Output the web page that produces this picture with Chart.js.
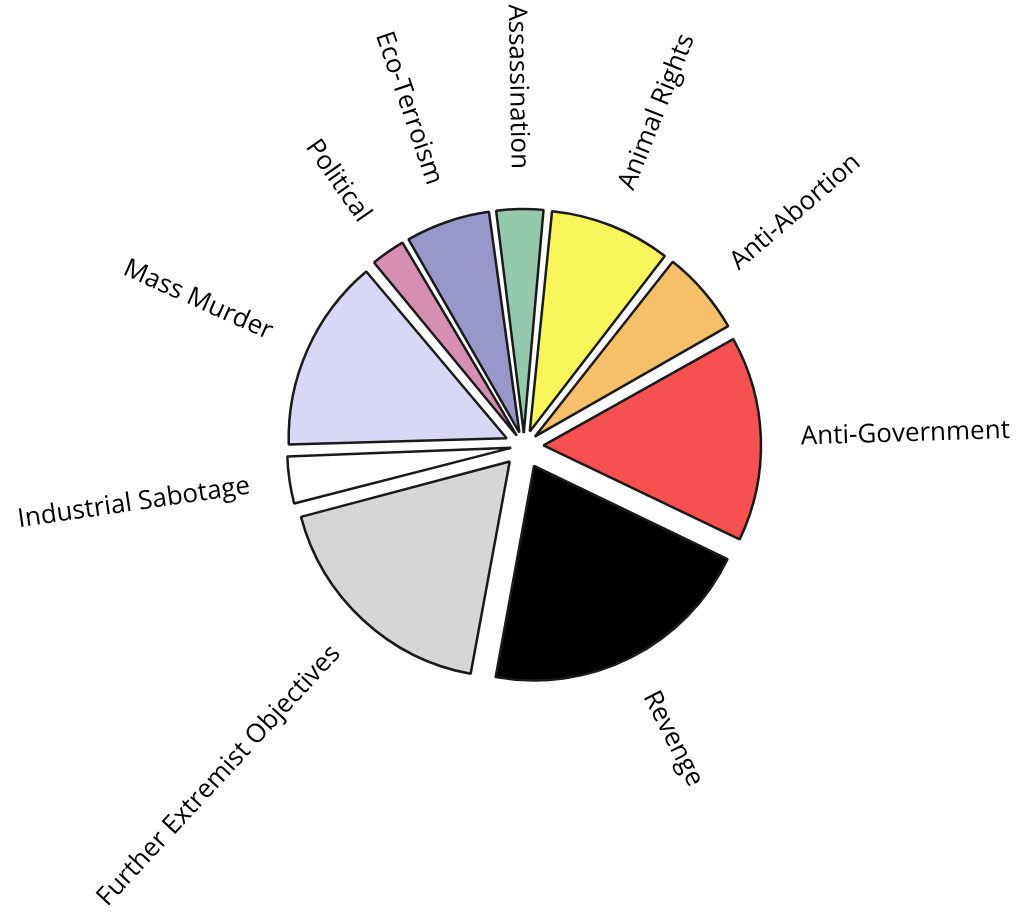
<!DOCTYPE html>
<html>
<head>
<meta charset="utf-8">
<script src="https://cdn.jsdelivr.net/npm/chart.js@4.4.1/dist/chart.umd.min.js"></script>
<style>
    body { margin: 0; background: #ffffff; }
    #wrap { position: relative; width: 1029px; height: 922px; }
</style>
</head>
<body>
<div id="wrap"><canvas id="motiveChart"></canvas></div>
<script>
// motives, clockwise from the top
var motiveLabels = ['Assassination', 'Animal Rights', 'Anti-Abortion', 'Anti-Government', 'Revenge',
    'Further Extremist Objectives', 'Industrial Sabotage', 'Mass Murder', 'Political', 'Eco-Terroism'];
var motiveCounts = [4, 10, 7, 17, 23, 20, 4, 16, 3, 7];
var motiveColors = ['#94c9ae', '#f8f65a', '#f6bf6a', '#f65151', '#000000',
    '#d6d6d6', '#ffffff', '#d8d8f6', '#d68fb1', '#9797c9'];

var explode = 23; // px each slice is pulled out
var labelGap = 63; // px between pie edge and label

// draws the rotated labels round the pie
var radialLabels = {
    id: 'radialLabels',
    afterDatasetsDraw: function (chart) {
        var ctx = chart.ctx;
        var meta = chart.getDatasetMeta(0);
        ctx.save();
        ctx.font = '26px "Open Sans", sans-serif';
        ctx.fillStyle = '#000000';
        ctx.textBaseline = 'middle';
        meta.data.forEach(function (arc, i) {
            var mid = (arc.startAngle + arc.endAngle) / 2;
            var r = arc.outerRadius + labelGap;
            ctx.save();
            ctx.translate(arc.x + Math.cos(mid) * r, arc.y + Math.sin(mid) * r);
            if (Math.cos(mid) >= 0) {
                ctx.rotate(mid);
                ctx.textAlign = 'left';
            } else {
                ctx.rotate(mid + Math.PI);
                ctx.textAlign = 'right';
            }
            ctx.fillText(chart.data.labels[i], 0, 0);
            ctx.restore();
        });
        ctx.restore();
    }
};

var total = motiveCounts.reduce(function (a, b) { return a + b; }, 0);

new Chart(document.getElementById('motiveChart'), {
    type: 'pie',
    data: {
        labels: motiveLabels,
        datasets: [{
            data: motiveCounts,
            backgroundColor: motiveColors,
            borderColor: '#1a1a1a',
            borderWidth: 2.5,
            // chart.js scales the offset by slice size, undo that so every slice moves the same
            offset: function (c) {
                var angle = 2 * Math.PI * motiveCounts[c.dataIndex] / total;
                var fix = 1 - Math.sin(Math.min(Math.PI, angle));
                return 4 * explode / (1 + fix);
            }
        }]
    },
    options: {
        responsive: true,
        maintainAspectRatio: false,
        animation: false,
        radius: 214,
        rotation: -7.5,
        layout: {
            padding: { left: 19, right: 0, top: 0, bottom: 30 }
        },
        plugins: {
            legend: { display: false },
            tooltip: { enabled: false }
        }
    },
    plugins: [radialLabels]
});
</script>
</body>
</html>
